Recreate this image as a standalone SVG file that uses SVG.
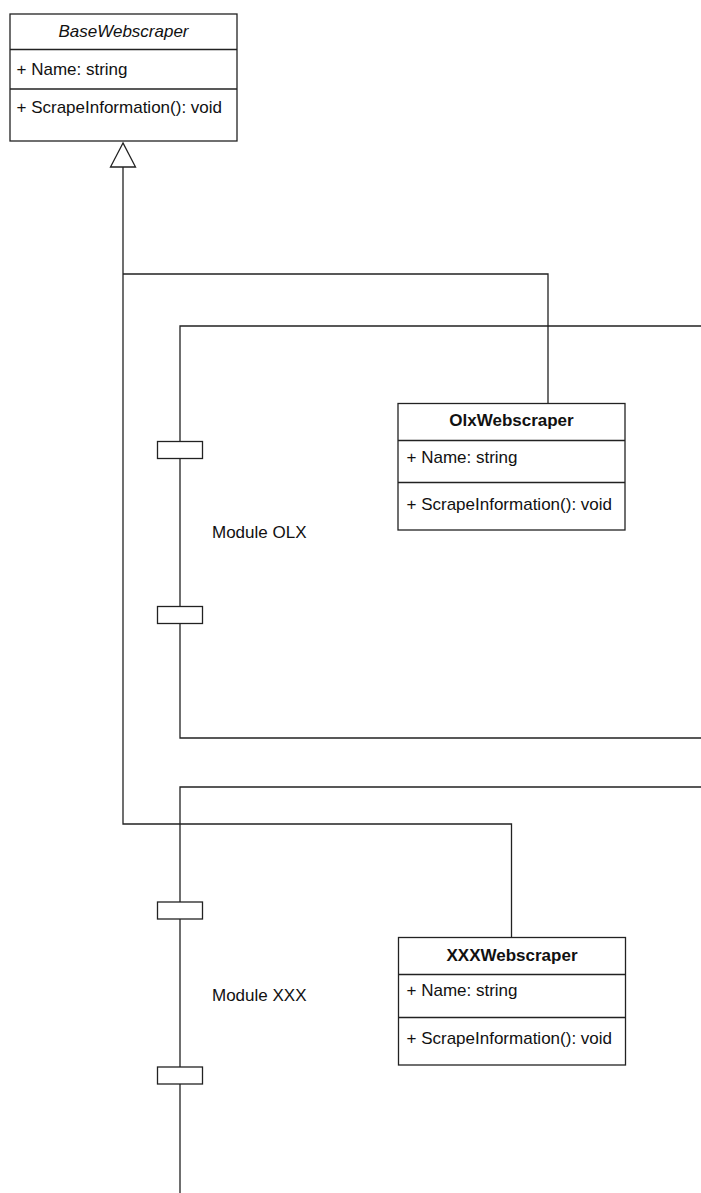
<svg xmlns="http://www.w3.org/2000/svg" width="701" height="1193" viewBox="0 0 701 1193">
<style>
.box{fill:#fff;stroke:#222;stroke-width:1.3}
.div{stroke:#222;stroke-width:1.3}
.ln{fill:none;stroke:#222;stroke-width:1.3}
.port{fill:#fff;stroke:#222;stroke-width:1.3}
text{font-family:"Liberation Sans",Arial,sans-serif;font-size:17px;fill:#111}
.t{text-anchor:middle}
.b{font-weight:bold}
.i{font-style:italic}
</style>
<rect width="701" height="1193" fill="#fff"/>
<g id="connectors">
<path class="ln" d="M123 167 V824 H511.5 V938"/>
<path class="ln" d="M123 274 H548 V403"/>
<path class="ln" d="M123 143 L110.5 167 H135.5 Z"/>
</g>
<g id="moduleOLX">
<path class="ln" d="M702 326 H180 V738 H702"/>
<rect class="port" x="157.5" y="441.5" width="45" height="17"/>
<rect class="port" x="157.5" y="606.5" width="45" height="17"/>
<text x="212" y="538">Module OLX</text>
</g>
<g id="moduleXXX">
<path class="ln" d="M702 787 H180 V1194"/>
<rect class="port" x="157.5" y="902" width="45" height="17"/>
<rect class="port" x="157.5" y="1067" width="45" height="17"/>
<text x="212" y="1001">Module XXX</text>
</g>
<g id="BaseWebscraper">
<rect class="box" x="10" y="14" width="227" height="127"/>
<line class="div" x1="10" y1="49.5" x2="237" y2="49.5"/>
<line class="div" x1="10" y1="89" x2="237" y2="89"/>
<text class="t i" x="123.5" y="36.5">BaseWebscraper</text>
<text x="16.5" y="75">+ Name: string</text>
<text x="16.5" y="113">+ ScrapeInformation(): void</text>
</g>
<g id="OlxWebscraper">
<rect class="box" x="398" y="403.5" width="227" height="126.5"/>
<line class="div" x1="398" y1="440.5" x2="625" y2="440.5"/>
<line class="div" x1="398" y1="482.5" x2="625" y2="482.5"/>
<text class="t b" x="511.5" y="426">OlxWebscraper</text>
<text x="406.5" y="462.5">+ Name: string</text>
<text x="406.5" y="510">+ ScrapeInformation(): void</text>
</g>
<g id="XXXWebscraper">
<rect class="box" x="398.5" y="937.5" width="227" height="127.5"/>
<line class="div" x1="398.5" y1="974.5" x2="625.5" y2="974.5"/>
<line class="div" x1="398.5" y1="1017.5" x2="625.5" y2="1017.5"/>
<text class="t b" x="512" y="961">XXXWebscraper</text>
<text x="406.5" y="996">+ Name: string</text>
<text x="406.5" y="1044">+ ScrapeInformation(): void</text>
</g>
</svg>
